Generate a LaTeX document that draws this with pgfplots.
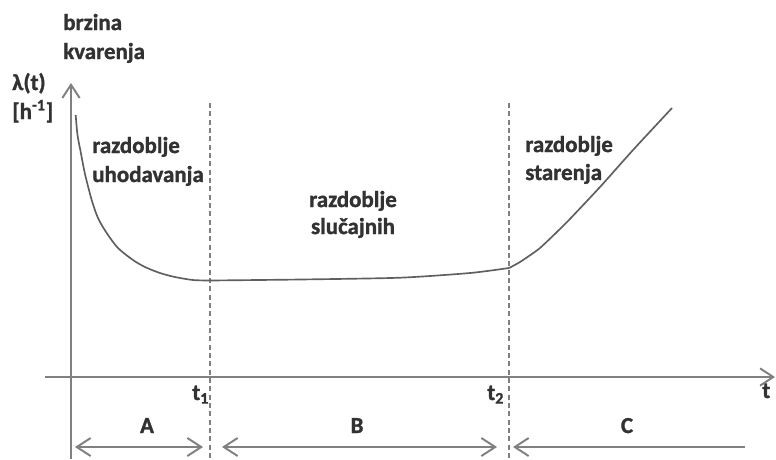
\documentclass[border=0pt]{standalone}
\usepackage{pgfplots}
\pgfplotsset{compat=1.18}
\usetikzlibrary{arrows.meta}
\usepackage{fontspec}
\setmainfont{Carlito}[BoldFeatures={FakeBold=1.3}]
\definecolor{axgray}{RGB}{128,128,128}
\definecolor{curvegray}{RGB}{95,95,95}
\definecolor{txtgray}{RGB}{50,50,50}

\begin{document}
\begin{tikzpicture}[
    lbl/.style={font=\fontsize{16.5}{20}\selectfont\bfseries, text=txtgray, inner sep=0pt},
    ax/.style={draw=axgray, line width=1.4pt},
    dbl/.style={draw=axgray, line width=1.4pt},
  ]
  \begin{axis}[
      scale only axis,
      width=558.72pt, height=330.48pt,
      xmin=0, xmax=776, ymin=0, ymax=459,
      y dir=reverse,
      hide axis,
      clip=false,
    ]
    % koordinatne osi
    \draw[ax, -{Straight Barb[length=9.5pt, width=12.5pt]}] (axis cs:71,459) -- (axis cs:71,83);
    \draw[ax, -{Straight Barb[length=9.5pt, width=12.5pt]}] (axis cs:45,377) -- (axis cs:775,377);

    % granice razdoblja
    \addplot[color=axgray, line width=1pt, dash pattern=on 3.6pt off 2.4pt] coordinates {(210,103) (210,459)};
    \addplot[color=axgray, line width=1pt, dash pattern=on 3.6pt off 2.4pt] coordinates {(509,103) (509,459)};

    % krivulja kade
    \addplot[color=curvegray, line width=1.2pt, smooth, tension=0.5] coordinates {
        (75.7,115) (77.5,135) (80.7,152) (85,174) (91.7,200) (98,218) (106.7,233)
        (118,248) (133,260) (145,267) (160,273) (175,277) (193,280) (210,280.5)
      };
    \addplot[color=curvegray, line width=1.2pt, smooth, tension=0.4] coordinates {
        (210,280.5) (300,279.5) (400,277.7) (470,273) (509,268)
      };
    \addplot[color=curvegray, line width=1.2pt, smooth, tension=0.3] coordinates {
        (509,268) (520,262) (540,248) (567,222) (600,187) (633,150) (672,108)
      };

    % strelice razdoblja
    \draw[dbl, {Straight Barb[length=10pt, width=13pt]}-{Straight Barb[length=10pt, width=13pt]}] (axis cs:75,447) -- (axis cs:203,447);
    \draw[dbl, {Straight Barb[length=10pt, width=13pt]}-{Straight Barb[length=10pt, width=13pt]}] (axis cs:222,447) -- (axis cs:497,447);
    \draw[dbl, {Straight Barb[length=10pt, width=13pt]}-] (axis cs:513,447) -- (axis cs:745,447);

    % tekst
    \node[lbl, anchor=base west] at (axis cs:63,30) {brzina};
    \node[lbl, anchor=base west] at (axis cs:63,59) {kvarenja};
    \node[lbl, anchor=base west] at (axis cs:12,90) {λ(t)};
    \node[lbl, anchor=base west] at (axis cs:12,119) {[h\textsuperscript{-1}]};

    \node[lbl, anchor=base west] at (axis cs:92,153) {razdoblje};
    \node[lbl, anchor=base west] at (axis cs:92,182) {uhodavanja};
    \node[lbl, anchor=base] at (axis cs:353,207) {razdoblje};
    \node[lbl, anchor=base] at (axis cs:353,234) {slučajnih};
    \node[lbl, anchor=base west] at (axis cs:525,152) {razdoblje};
    \node[lbl, anchor=base west] at (axis cs:525,180) {starenja};

    \node[lbl, anchor=base west] at (axis cs:192,400) {t\textsubscript{1}};
    \node[lbl, anchor=base west] at (axis cs:487,400) {t\textsubscript{2}};
    \node[lbl, anchor=base west] at (axis cs:762,398) {t};

    \node[lbl, anchor=base] at (axis cs:147,433) {A};
    \node[lbl, anchor=base] at (axis cs:357,433) {B};
    \node[lbl, anchor=base] at (axis cs:627,433) {C};

    \coordinate (sw) at (axis cs:0,459);
    \coordinate (ne) at (axis cs:776,0);
  \end{axis}
  \pgfresetboundingbox
  \path (sw) rectangle (ne);
\end{tikzpicture}
\end{document}
